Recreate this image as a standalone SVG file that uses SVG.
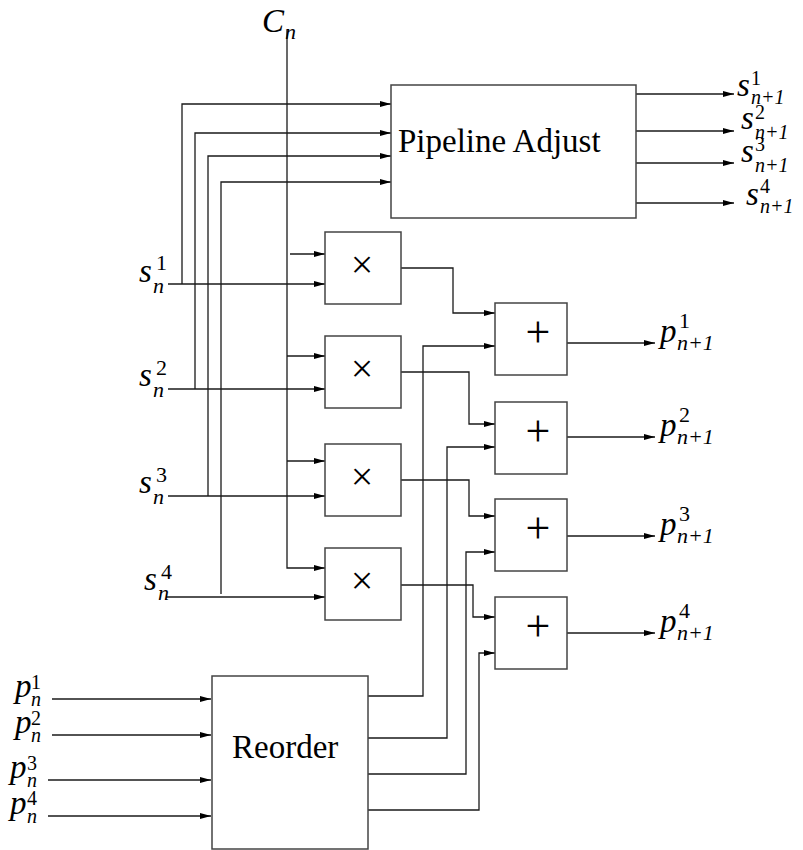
<svg xmlns="http://www.w3.org/2000/svg" width="803" height="850" viewBox="0 0 803 850">
<style>
.box{fill:#fff;stroke:#444;stroke-width:1.5}
.wa{fill:none;stroke:#1a1a1a;stroke-width:1.3;marker-end:url(#ah)}
text{font-family:'Liberation Serif','DejaVu Serif','Noto Serif',serif;fill:#000}
.m{font-style:italic;font-size:33px}
.sc{font-size:22px}
.si{font-style:italic;font-size:22px}
.ss{font-size:20px}
.ssi{font-style:italic;font-size:20px}
.op{text-anchor:middle}
</style>
<defs>
<marker id="ah" markerUnits="userSpaceOnUse" markerWidth="12" markerHeight="8" refX="11" refY="4" orient="auto">
<path d="M0,1 L11,4 L0,7 z" fill="#000"/>
</marker>
</defs>
<rect width="803" height="850" fill="#fff"/>

<g id="connectors">
<path class="wa" d="M182,284 V104 H391"/>
<path class="wa" d="M195,389 V133 H391"/>
<path class="wa" d="M208,496 V156 H391"/>
<path class="wa" d="M221,594 V182 H391"/>
<path class="wa" d="M287,30 V568 H325"/>
<path class="wa" d="M290,254 H325"/>
<path class="wa" d="M287,356 H325"/>
<path class="wa" d="M287,461 H325"/>
<path class="wa" d="M168,284 H325"/>
<path class="wa" d="M168,389 H325"/>
<path class="wa" d="M168,496 H325"/>
<path class="wa" d="M166,597 H325"/>
<path class="wa" d="M401,268 H453 V313 H495"/>
<path class="wa" d="M401,372 H469 V424 H495"/>
<path class="wa" d="M401,480 H469 V516 H495"/>
<path class="wa" d="M401,585 H473 V617 H495"/>
<path class="wa" d="M368,696 H423 V346 H495"/>
<path class="wa" d="M368,738 H447 V447 H495"/>
<path class="wa" d="M368,774 H466 V552 H495"/>
<path class="wa" d="M368,810 H479 V653 H495"/>
<path class="wa" d="M567,343 H655"/>
<path class="wa" d="M567,437 H655"/>
<path class="wa" d="M567,536 H655"/>
<path class="wa" d="M567,633 H655"/>
<path class="wa" d="M636,94 H734"/>
<path class="wa" d="M636,131 H734"/>
<path class="wa" d="M636,163 H734"/>
<path class="wa" d="M636,203 H734"/>
<path class="wa" d="M52,699 H211"/>
<path class="wa" d="M52,735 H211"/>
<path class="wa" d="M48,780 H211"/>
<path class="wa" d="M48,816 H211"/>
</g>

<g id="pipeline">
<rect class="box" x="391" y="85" width="245" height="133"/>
<text x="398" y="152" font-size="33">Pipeline Adjust</text>
</g>

<g id="mult1"><rect class="box" x="325" y="232" width="76" height="72"/><text class="op" x="362" y="278" font-size="40">×</text></g>
<g id="mult2"><rect class="box" x="325" y="336" width="76" height="72"/><text class="op" x="362" y="382" font-size="40">×</text></g>
<g id="mult3"><rect class="box" x="325" y="444" width="76" height="72"/><text class="op" x="362" y="490" font-size="40">×</text></g>
<g id="mult4"><rect class="box" x="325" y="548" width="76" height="72"/><text class="op" x="362" y="594" font-size="40">×</text></g>

<g id="add1"><rect class="box" x="495" y="303" width="72" height="72"/><text class="op" x="538" y="347" font-size="44">+</text></g>
<g id="add2"><rect class="box" x="495" y="402" width="72" height="72"/><text class="op" x="538" y="446" font-size="44">+</text></g>
<g id="add3"><rect class="box" x="495" y="499" width="72" height="72"/><text class="op" x="538" y="543" font-size="44">+</text></g>
<g id="add4"><rect class="box" x="495" y="597" width="72" height="72"/><text class="op" x="538" y="641" font-size="44">+</text></g>

<g id="reorder">
<rect class="box" x="212" y="676" width="156" height="173"/>
<text x="232" y="758" font-size="33">Reorder</text>
</g>

<g id="labels">
<text class="m" x="262" y="32">C</text><text class="si" x="285" y="39">n</text>
<text class="m" x="139" y="282">s</text><text class="sc" x="156" y="270">1</text><text class="si" x="153" y="293">n</text>
<text class="m" x="139" y="386">s</text><text class="sc" x="156" y="375">2</text><text class="si" x="153" y="397">n</text>
<text class="m" x="139" y="493">s</text><text class="sc" x="156" y="482">3</text><text class="si" x="153" y="504">n</text>
<text class="m" x="144" y="590">s</text><text class="sc" x="161" y="579">4</text><text class="si" x="158" y="600">n</text>
<text class="m" x="737" y="96">s</text><text class="ss" x="751" y="85">1</text><text class="ssi" x="751" y="104">n+1</text>
<text class="m" x="741" y="129">s</text><text class="ss" x="755" y="119">2</text><text class="ssi" x="755" y="139">n+1</text>
<text class="m" x="741" y="162">s</text><text class="ss" x="755" y="151">3</text><text class="ssi" x="755" y="172">n+1</text>
<text class="m" x="746" y="205">s</text><text class="ss" x="760" y="193">4</text><text class="ssi" x="760" y="213">n+1</text>
<text class="m" x="660" y="342">p</text><text class="sc" x="679" y="328">1</text><text class="si" x="677" y="350">n+1</text>
<text class="m" x="660" y="436">p</text><text class="sc" x="679" y="422">2</text><text class="si" x="677" y="444">n+1</text>
<text class="m" x="660" y="535">p</text><text class="sc" x="679" y="521">3</text><text class="si" x="677" y="543">n+1</text>
<text class="m" x="660" y="632">p</text><text class="sc" x="679" y="618">4</text><text class="si" x="677" y="640">n+1</text>
<text class="m" x="15" y="697">p</text><text class="ss" x="31" y="689">1</text><text class="ssi" x="31" y="706">n</text>
<text class="m" x="15" y="733">p</text><text class="ss" x="31" y="725">2</text><text class="ssi" x="31" y="742">n</text>
<text class="m" x="10" y="778">p</text><text class="ss" x="27" y="770">3</text><text class="ssi" x="27" y="787">n</text>
<text class="m" x="10" y="814">p</text><text class="ss" x="27" y="805">4</text><text class="ssi" x="27" y="823">n</text>
</g>
</svg>
